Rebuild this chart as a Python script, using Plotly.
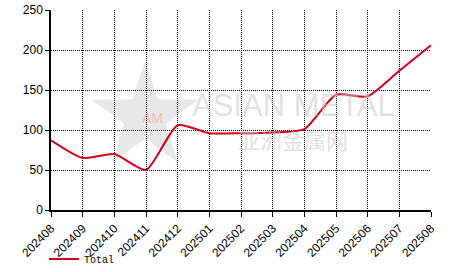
import math
import plotly.graph_objects as go

months = ["202408","202409","202410","202411","202412","202501","202502",
          "202503","202504","202505","202506","202507","202508"]
total = [87, 65, 70, 50, 106, 96, 96, 97, 101, 144, 142, 174, 206]

L, R, T, B = 51, 35, 10, 62
W, H = 466, 272
pw, ph = W - L - R, H - T - B


def px(x):
    return (x - L) / pw


def py(y):
    return 1 - (y - T) / ph


fig = go.Figure()
fig.add_trace(go.Scatter(
    x=months, y=total, mode="lines", name="Total",
    line=dict(color="#d0021b", width=2, shape="spline", smoothing=0.6),
))

# decorative watermark star
cx, cy, ro, ri = 145, 117, 56, 22
pts = []
for k in range(10):
    r = ro if k % 2 == 0 else ri
    ang = -math.pi / 2 + k * math.pi / 5
    pts.append((px(cx + r * math.cos(ang)), py(cy + r * math.sin(ang))))
path = "M " + " L ".join(f"{a:.4f},{b:.4f}" for a, b in pts) + " Z"
fig.add_shape(type="path", path=path, xref="paper", yref="paper", layer="below",
              fillcolor="rgba(205,205,205,0.45)", line=dict(width=0))

wm = "rgba(200,200,200,0.55)"
fig.add_annotation(text="ASIAN METAL", x=px(293), y=py(105), xref="paper", yref="paper",
                   showarrow=False, font=dict(family="Liberation Sans", size=31, color=wm))
fig.add_annotation(text="亚洲金属网", x=px(293), y=py(139), xref="paper", yref="paper",
                   showarrow=False, font=dict(family="Noto Sans CJK SC", size=22, color=wm))
fig.add_annotation(text="AM", x=px(140), y=py(118), xref="paper", yref="paper",
                   showarrow=False, font=dict(family="Liberation Sans", size=14, color="rgba(240,140,140,0.5)"))

fig.update_layout(
    width=W, height=H,
    margin=dict(l=L, r=R, t=T, b=B, autoexpand=False),
    paper_bgcolor="white", plot_bgcolor="white",
    showlegend=True,
    legend=dict(x=44 / W, y=1 - 259 / H, xref="container", yref="container",
                xanchor="left", yanchor="middle", orientation="h",
                font=dict(family="Liberation Mono", size=10, color="#000"),
                bgcolor="rgba(0,0,0,0)", itemwidth=30),
    font=dict(family="Liberation Sans", size=11, color="#000"),
)

fig.update_xaxes(
    type="category", range=[0, 12], tickangle=-45, automargin=False,
    showline=True, linecolor="#000", linewidth=1.5,
    ticks="outside", ticklen=5, tickcolor="#000",
    showgrid=True, gridcolor="#000", griddash="1px,1px", gridwidth=1,
    tickfont=dict(size=12), zeroline=False,
)
fig.update_yaxes(
    range=[0, 250], dtick=50, automargin=False,
    showline=True, linecolor="#000", linewidth=1.5,
    ticks="outside", ticklen=4, tickcolor="#000",
    showgrid=True, gridcolor="#000", griddash="1px,1px", gridwidth=1,
    tickfont=dict(size=12), zeroline=False,
)

fig.write_html("out.html")
